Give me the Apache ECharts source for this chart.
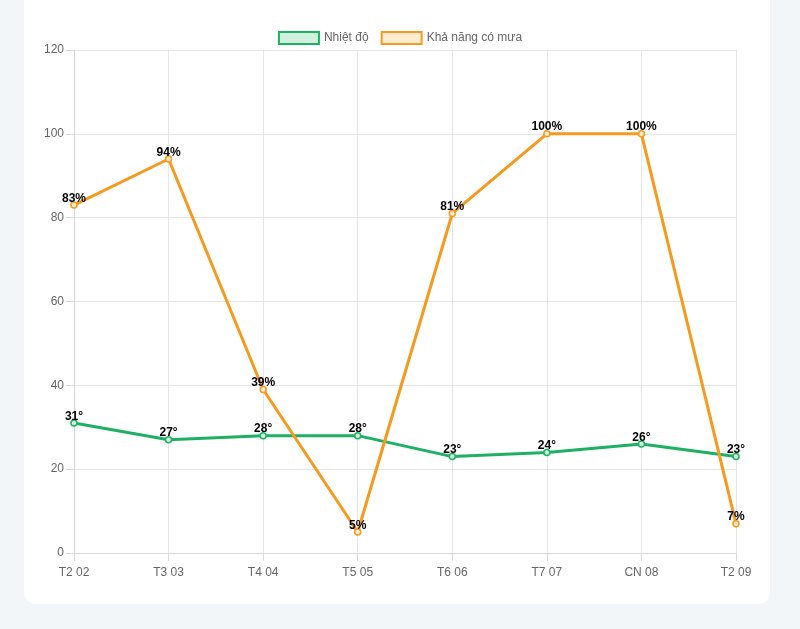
<!DOCTYPE html>
<html><head><meta charset="utf-8">
<script src="https://cdn.jsdelivr.net/npm/echarts@6/dist/echarts.min.js"></script>
<style>
html,body{margin:0;padding:0;width:800px;height:629px;background:#f2f6f8;overflow:hidden}
#card{position:absolute;left:24px;top:-20px;width:746px;height:624px;background:#fff;border-radius:12px}
#chart{position:absolute;left:0;top:0;width:800px;height:629px}
</style></head>
<body>
<div id="card"></div>
<div id="chart"></div>
<script>
const categories = ['T2 02','T3 03','T4 04','T5 05','T6 06','T7 07','CN 08','T2 09'];
const temperature = [31,27,28,28,23,24,26,23];
const rainChance = [83,94,39,5,81,100,100,7];
const seriesNames = ['Nhiệt độ','Khả năng có mưa'];

const GREEN = '#1fb163', ORANGE = '#f5991f';
const GREEN_FILL = '#d2f0de', ORANGE_FILL = '#fdebd2';
const FONT = '"Liberation Sans", Arial, Helvetica, sans-serif';

const chart = echarts.init(document.getElementById('chart'));
function lineSeries(name, data, color, fill, suffix){
  return {
    name, type:'line', data,
    symbol:'circle', symbolSize:6,
    lineStyle:{color, width:3},
    itemStyle:{color:fill, borderColor:color, borderWidth:1.5},
    label:{show:true, position:'top', distance:-3, color:'#000', fontWeight:'bold', fontSize:12, fontFamily:FONT,
      formatter:p=>p.value+suffix},
    emphasis:{disabled:true},
    animation:false
  };
}
chart.setOption({
  animation:false,
  textStyle:{fontFamily:FONT},
  legend:{
    top:26, left:'center', itemWidth:40, itemHeight:12, itemGap:12, icon:'rect',
    textStyle:{color:'#666', fontSize:12, fontFamily:FONT},
    data:[
      {name:seriesNames[0], itemStyle:{color:GREEN_FILL, borderColor:GREEN, borderWidth:2}},
      {name:seriesNames[1], itemStyle:{color:ORANGE_FILL, borderColor:ORANGE, borderWidth:2}}
    ]
  },
  grid:{left:74, right:64, top:50, bottom:76},
  xAxis:{
    type:'category', data:categories, boundaryGap:false,
    axisLine:{lineStyle:{color:'#d6d6d6'}},
    axisTick:{show:true, length:8, lineStyle:{color:'#d9d9d9'}},
    axisLabel:{color:'#666', fontSize:12, margin:14, fontFamily:FONT},
    splitLine:{show:true, lineStyle:{color:'#e6e6e6'}}
  },
  yAxis:{
    type:'value', min:0, max:120, interval:20,
    axisLine:{show:true, lineStyle:{color:'#d6d6d6'}},
    axisTick:{show:true, length:8, lineStyle:{color:'#d9d9d9'}},
    axisLabel:{color:'#666', fontSize:12, margin:10, fontFamily:FONT},
    splitLine:{show:true, lineStyle:{color:'#e6e6e6'}}
  },
  series:[
    lineSeries(seriesNames[0], temperature, GREEN, GREEN_FILL, '°'),
    lineSeries(seriesNames[1], rainChance, ORANGE, ORANGE_FILL, '%')
  ]
});
</script>
</body></html>
